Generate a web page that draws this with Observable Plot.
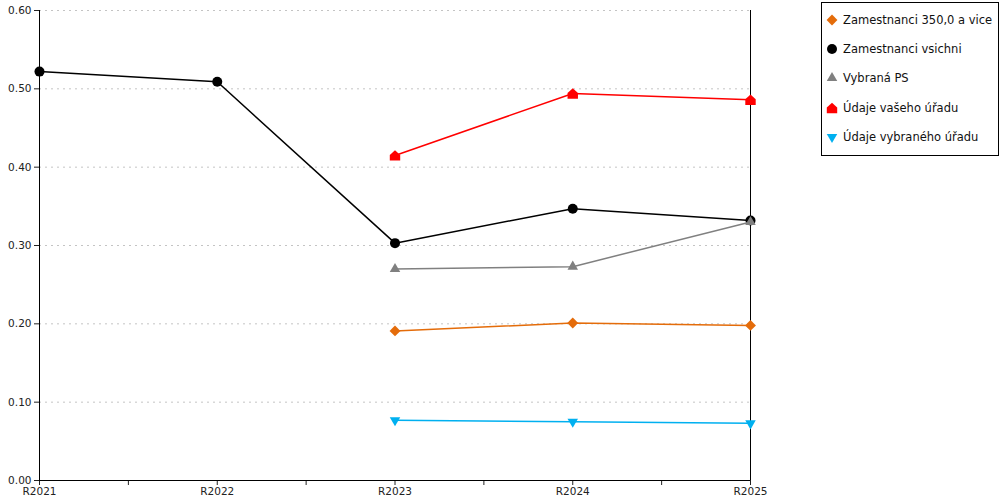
<!DOCTYPE html>
<html>
<head>
<meta charset="utf-8">
<script src="https://cdn.jsdelivr.net/npm/d3@7"></script>
<script src="https://cdn.jsdelivr.net/npm/@observablehq/plot@0.6"></script>
<style>
  html, body { margin: 0; padding: 0; background: #fff; }
  #wrap { position: relative; width: 1000px; height: 500px; font-family: "DejaVu Sans", sans-serif; }
  #legend { position: absolute; left: 821px; top: 2px; width: 176px; height: 152px; border: 1px solid #000; background: #fff; font-size: 11.5px; color: #111; }
  .item { position: absolute; left: 3px; display: flex; align-items: center; white-space: nowrap; }
  .item svg { width: 14px; height: 14px; margin-right: 4px; }
</style>
</head>
<body>
<div id="wrap"><div id="legend"></div></div>
<script>
const categories = ["R2021", "R2022", "R2023", "R2024", "R2025"];
const seriesNames = ["Zamestnanci 350,0 a vice", "Zamestnanci vsichni", "Vybraná PS", "Údaje vašeho úřadu", "Údaje vybraného úřadu"];
const orangeValues = [null, null, 0.191, 0.201, 0.198];
const blackValues = [0.522, 0.509, 0.303, 0.347, 0.332];
const grayValues = [null, null, 0.270, 0.273, 0.330];
const redValues = [null, null, 0.415, 0.494, 0.486];
const blueValues = [null, null, 0.077, 0.075, 0.073];
const yTicks = [0, 0.1, 0.2, 0.3, 0.4, 0.5, 0.6];

const house = {
  draw(ctx, size) {
    const k = Math.sqrt(size) / 1.77;
    ctx.moveTo(-k, k);
    ctx.lineTo(k, k);
    ctx.lineTo(k, -0.1 * k);
    ctx.lineTo(0, -k);
    ctx.lineTo(-k, -0.1 * k);
    ctx.closePath();
  }
};

const series = [
  {name: seriesNames[0], values: orangeValues, color: "#E46C0A", symbol: "diamond2", r: 4.9, rotate: 0},
  {name: seriesNames[1], values: blackValues, color: "#000000", symbol: "circle", r: 5, rotate: 0},
  {name: seriesNames[2], values: grayValues, color: "#808080", symbol: "triangle", r: 3.9, rotate: 0},
  {name: seriesNames[3], values: redValues, color: "#FF0000", symbol: house, r: 5.2, rotate: 0},
  {name: seriesNames[4], values: blueValues, color: "#00B0F0", symbol: "triangle", r: 3.9, rotate: 180}
];

function rows(s) {
  return s.values.map((v, i) => ({i, v})).filter(d => d.v != null);
}

const marks = [
  Plot.ruleY(yTicks.filter(d => d > 0), {stroke: "#c4c4c4", strokeDasharray: "2,4", strokeWidth: 1}),
  Plot.axisY({ticks: yTicks, tickFormat: d3.format(".2f"), tickSize: 5, tickPadding: 3, fontSize: 10.5, color: "#222", label: null}),
  Plot.axisX({ticks: d3.range(0, 4.001, 0.5), tickFormat: d => Number.isInteger(d) ? categories[d] : "", tickSize: 5, tickPadding: 2, fontSize: 10.5, color: "#222", label: null}),
  Plot.ruleX([0], {stroke: "#000", strokeWidth: 1}),
  Plot.ruleX([4], {stroke: "#000", strokeWidth: 1}),
  Plot.ruleY([0], {stroke: "#000", strokeWidth: 1})
];
for (const s of series) {
  marks.push(Plot.line(rows(s), {x: "i", y: "v", stroke: s.color, strokeWidth: 1.5}));
  marks.push(Plot.dot(rows(s), {x: "i", y: "v", fill: s.color, stroke: "none", symbol: () => s.symbol, r: s.r, rotate: s.rotate}));
}

const chart = Plot.plot({
  width: 1000,
  height: 500,
  marginLeft: 39,
  marginRight: 250,
  marginTop: 10,
  marginBottom: 20,
  style: {fontFamily: "DejaVu Sans, sans-serif", fontSize: "10.5px", background: "#fff", overflow: "visible"},
  x: {type: "linear", domain: [0, 4], axis: null},
  y: {domain: [0, 0.6], axis: null},
  symbol: {type: "identity"},
  marks
});
document.getElementById("wrap").prepend(chart);

// legend
const legend = d3.select("#legend");
series.forEach((s, k) => {
  const item = legend.append("div").attr("class", "item").style("top", (10 + k * 29.2) + "px");
  const svg = item.append("svg").attr("viewBox", "-7 -7 14 14");
  const typ = s.symbol === "diamond2" ? d3.symbolDiamond2 : s.symbol === "circle" ? d3.symbolCircle : s.symbol === "triangle" ? d3.symbolTriangle : s.symbol;
  svg.append("path").attr("d", d3.symbol(typ, Math.PI * s.r * s.r)()).attr("fill", s.color)
    .attr("transform", s.rotate ? `rotate(${s.rotate})` : null);
  item.append("span").text(s.name);
});
</script>
</body>
</html>
